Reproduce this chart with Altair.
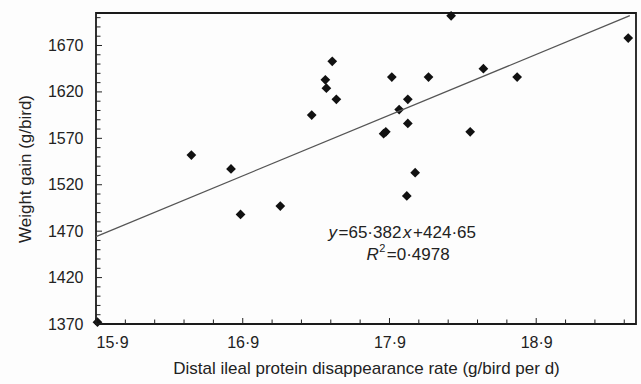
import altair as alt
import pandas as pd

# ---- data ----
x_vals = [15.91, 16.55, 16.82, 16.885, 17.156, 17.37, 17.463, 17.47, 17.51, 17.538,
          18.32, 19.527, 17.916, 18.166, 18.54, 18.77, 18.025, 17.966, 18.025,
          17.86, 17.875, 18.45, 18.075, 18.018]
y_vals = [1372, 1552, 1537, 1488, 1497, 1595, 1633, 1624, 1653, 1612,
          1702, 1678, 1636, 1636, 1645, 1636, 1612, 1601, 1586,
          1575, 1577, 1577, 1533, 1508]

slope = 65.382
intercept = 424.65
fit_x = [15.9, 19.538]

x_major = [15.9, 16.9, 17.9, 18.9]
x_minor = [16.1, 16.3, 16.5, 16.7, 17.1, 17.3, 17.5, 17.7, 18.1, 18.3, 18.5, 18.7,
           19.1, 19.3, 19.5]
y_major = [1370, 1420, 1470, 1520, 1570, 1620, 1670]
y_minor = [v for v in range(1380, 1710, 10) if v not in y_major]

x_domain = [15.9, 19.58]
y_domain = [1370, 1705]

# annotation anchors (data coords)
ann1 = (17.484, 1468.3)
ann2 = (17.743, 1444.7)

FONT = "Liberation Sans"
W, H = 540, 311

pts = pd.DataFrame({"x": x_vals, "y": y_vals})
fit = pd.DataFrame({"x": fit_x, "y": [slope * v + intercept for v in fit_x]})

xs = alt.Scale(domain=x_domain, nice=False, zero=False)
ys = alt.Scale(domain=y_domain, nice=False, zero=False)

dot_expr = "replace(format(datum.value, '.1f'), '.', '·')"

TX = "Distal ileal protein disappearance rate (g/bird per d)"
TY = "Weight gain (g/bird)"

XAXIS = alt.Axis(values=x_major, labelExpr=dot_expr, ticks=False, domain=False,
                 grid=False, labelFont=FONT, labelFontSize=16, labelColor="#222",
                 labelPadding=10, title=TX,
                 titleFont=FONT, titleFontSize=17, titleFontWeight="normal",
                 titleColor="#222", titlePadding=10)
YAXIS = alt.Axis(values=y_major, format="d", ticks=False, domain=False, grid=False,
                 labelFont=FONT, labelFontSize=16, labelColor="#222", labelPadding=13,
                 title=TY, titleFont=FONT, titleFontSize=17,
                 titleFontWeight="normal", titleColor="#222", titlePadding=13)


def X(field):
    return alt.X(field, scale=xs, axis=XAXIS, title=TX)


def Y(field):
    return alt.Y(field, scale=ys, axis=YAXIS, title=TY)


points = alt.Chart(pts).mark_point(
    shape="diamond", filled=True, color="#111111", size=95, opacity=1
).encode(x=X("x:Q"), y=Y("y:Q"))

line = alt.Chart(fit).mark_line(color="#555555", strokeWidth=1.3).encode(
    x=X("x:Q"), y=Y("y:Q")
)


def yticks(vals, length):
    return alt.Chart(pd.DataFrame({"v": vals})).mark_rule(color="#222", strokeWidth=1).encode(
        y=Y("v:Q"), x=alt.value(0), x2=alt.value(length)
    )


def xticks(vals, length):
    return alt.Chart(pd.DataFrame({"v": vals})).mark_rule(color="#222", strokeWidth=1).encode(
        x=X("v:Q"), y=alt.value(H), y2=alt.value(H - length)
    )


FS = 17
CW = {"d": 0.556, "=": 0.584, "+": 0.584, "·": 0.333, "x": 0.5, "y": 0.5, "R": 0.722}


def width(s, fs=FS):
    return sum(CW["d"] if c.isdigit() else CW.get(c, 0.556) for c in s) * fs


def seg(anchor, text, dx, italic=False, fs=FS, dy=0):
    return alt.Chart(pd.DataFrame({"x": [anchor[0]], "y": [anchor[1]], "t": [text]})).mark_text(
        align="left", baseline="middle", font=FONT, fontSize=fs, color="#222",
        fontStyle="italic" if italic else "normal", dx=dx, dy=dy
    ).encode(x=X("x:Q"), y=Y("y:Q"), text="t:N")


g = 1.6
l1 = [("y", True), ("=65·382", False), ("x", True), ("+424·65", False)]
texts = []
pos = 0.0
for s, it in l1:
    texts.append(seg(ann1, s, pos, italic=it))
    pos += width(s) + g

pos = 0.0
texts.append(seg(ann2, "R", pos, italic=True))
pos += width("R") + 0.5
texts.append(seg(ann2, "2", pos, fs=11, dy=-6))
pos += width("2", 11) + 1.5
texts.append(seg(ann2, "=0·4978", pos))

chart = alt.layer(
    points, line,
    yticks(y_major, 6), yticks(y_minor, 4.5),
    xticks(x_major, 6), xticks(x_minor, 4.5),
    *texts,
).properties(
    width=W, height=H,
    padding={"left": 96, "top": 13, "right": 5, "bottom": 60},
    autosize=alt.AutoSizeParams(type="none"),
    background="#fdfdfd",
).configure_view(stroke="#1a1a1a", strokeWidth=1.8)

chart.save("out.html", embed_options={"renderer": "svg", "actions": False})
